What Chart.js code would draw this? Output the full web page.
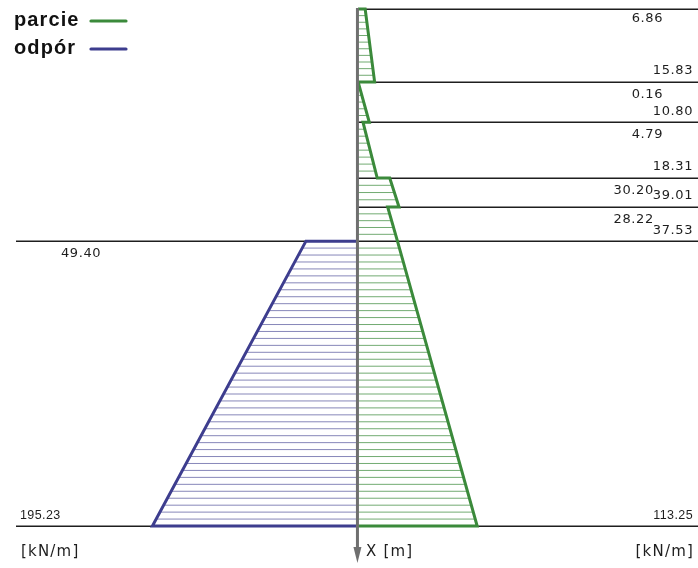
<!DOCTYPE html>
<html>
<head>
<meta charset="utf-8">
<script src="https://cdn.jsdelivr.net/npm/chart.js@4/dist/chart.umd.min.js"></script>
<style>
  html, body { margin: 0; padding: 0; background: #ffffff; }
  #wrap { width: 698px; height: 568px; }
</style>
</head>
<body>
<div id="wrap"><canvas id="c" width="698" height="568"></canvas></div>
<script>
// Layer boundaries measured down from the top of the wall [m]
const depths = [0, 1.41, 2.19, 3.27, 3.83, 4.49, 10.0];
// Active earth pressure at the top / bottom of each layer [kN/m]
const parcieTop    = [6.86, 0.16, 4.79, 30.20, 28.22, 37.53];
const parcieBottom = [15.83, 10.80, 18.31, 39.01, 37.53, 113.25];
// Passive resistance below the excavation level [kN/m]
const odporDepths = [4.49, 10.0];
const odporValues = [49.40, 195.23];
// Texts
const seriesNames = ['parcie', 'odpór'];
const unitLabel = '[kN/m]';
const axisLabel = 'X [m]';

const GREEN = '#3b8a3b';
const BLUE = '#3d3d8e';
const GREEN_HATCH = 'rgba(59,138,59,0.72)';
const BLUE_HATCH = 'rgba(61,61,142,0.62)';
const AXIS_GRAY = '#6f6f6f';
const INK = '#1e1e1e';

// Outline of the active pressure diagram (positive side)
const parciePts = [{ x: 0, y: depths[0] }];
parcieTop.forEach((v, i) => {
  parciePts.push({ x: v, y: depths[i] });
  parciePts.push({ x: parcieBottom[i], y: depths[i + 1] });
});
parciePts.push({ x: 0, y: depths[depths.length - 1] });

// Outline of the passive resistance diagram (drawn on the negative side)
const odporPts = [
  { x: 0, y: odporDepths[0] },
  { x: -odporValues[0], y: odporDepths[0] },
  { x: -odporValues[1], y: odporDepths[1] },
  { x: 0, y: odporDepths[1] }
];

function fmt(v) { return v.toFixed(2); }

const diagramPlugin = {
  id: 'wallDiagram',
  beforeDatasetsDraw(chart) {
    const { ctx, scales: { x, y }, chartArea } = chart;
    const x0 = x.getPixelForValue(0);
    ctx.save();
    // level lines
    ctx.strokeStyle = INK;
    ctx.lineWidth = 1.6;
    depths.forEach(d => {
      const py = Math.round(y.getPixelForValue(d)) + 0.2;
      ctx.beginPath();
      ctx.moveTo(x0, py);
      ctx.lineTo(chartArea.right, py);
      ctx.stroke();
    });
    odporDepths.forEach(d => {
      const py = Math.round(y.getPixelForValue(d)) + 0.2;
      ctx.beginPath();
      ctx.moveTo(16, py);
      ctx.lineTo(x0, py);
      ctx.stroke();
    });
    // hatching inside the active pressure diagram
    ctx.lineWidth = 1;
    ctx.strokeStyle = GREEN_HATCH;
    parcieTop.forEach((top, i) => {
      const yt = y.getPixelForValue(depths[i]);
      const yb = y.getPixelForValue(depths[i + 1]);
      const n = Math.max(1, Math.round((yb - yt) / 6.9));
      for (let k = 1; k < n; k++) {
        const t = k / n;
        const v = top + (parcieBottom[i] - top) * t;
        const py = yt + (yb - yt) * t;
        ctx.beginPath();
        ctx.moveTo(x0, py);
        ctx.lineTo(x.getPixelForValue(v), py);
        ctx.stroke();
      }
    });
    // hatching inside the passive resistance diagram
    ctx.strokeStyle = BLUE_HATCH;
    {
      const yt = y.getPixelForValue(odporDepths[0]);
      const yb = y.getPixelForValue(odporDepths[1]);
      const n = Math.max(1, Math.round((yb - yt) / 6.9));
      for (let k = 1; k < n; k++) {
        const t = k / n;
        const v = odporValues[0] + (odporValues[1] - odporValues[0]) * t;
        const py = yt + (yb - yt) * t;
        ctx.beginPath();
        ctx.moveTo(x0, py);
        ctx.lineTo(x.getPixelForValue(-v), py);
        ctx.stroke();
      }
    }
    ctx.restore();
  },
  afterDatasetsDraw(chart) {
    const { ctx, scales: { x, y }, chartArea } = chart;
    const x0 = x.getPixelForValue(0);
    const yTop = y.getPixelForValue(depths[0]);
    const yBottom = y.getPixelForValue(depths[depths.length - 1]);
    ctx.save();

    // depth axis with arrow
    ctx.strokeStyle = AXIS_GRAY;
    ctx.fillStyle = AXIS_GRAY;
    ctx.lineWidth = 3;
    ctx.beginPath();
    ctx.moveTo(x0 - 0.5, yTop - 1);
    ctx.lineTo(x0 - 0.5, yBottom + 23);
    ctx.stroke();
    ctx.beginPath();
    ctx.moveTo(x0 - 4.5, yBottom + 21);
    ctx.lineTo(x0 + 3.5, yBottom + 21);
    ctx.lineTo(x0 - 0.5, yBottom + 37);
    ctx.closePath();
    ctx.fill();

    // value labels
    ctx.fillStyle = INK;
    ctx.textBaseline = 'middle';
    const valueFont = '13px "DejaVu Sans"';
    const valueSpacing = '0.6px';
    const wallFont = '12.5px "Liberation Sans"';
    const wallSpacing = '0.4px';
    const rightEdge = chartArea.right - 5;
    const topRight = chartArea.right - 35;
    const last = parcieTop.length - 1;
    parcieTop.forEach((top, i) => {
      const yt = y.getPixelForValue(depths[i]);
      const yb = y.getPixelForValue(depths[i + 1]);
      const botY = yb - 11;
      const isLast = i === last;
      ctx.font = isLast ? wallFont : valueFont;
      ctx.letterSpacing = isLast ? wallSpacing : valueSpacing;
      ctx.textAlign = 'right';
      ctx.fillText(fmt(parcieBottom[i]), rightEdge, isLast ? yb - 10 : botY);
      const botW = ctx.measureText(fmt(parcieBottom[i])).width;
      if (i > 0 && parcieBottom[i - 1] === top) return;
      ctx.font = valueFont;
      ctx.letterSpacing = valueSpacing;
      const topY = i === 0 ? yt + 10 : yt + 12.5;
      let r = topRight;
      if (Math.abs(topY - botY) < 12) r = Math.min(r, rightEdge - botW + 1);
      ctx.fillText(fmt(top), r, topY);
    });
    ctx.textAlign = 'left';
    ctx.font = valueFont;
    ctx.letterSpacing = valueSpacing;
    ctx.fillText(fmt(odporValues[0]), 61, y.getPixelForValue(odporDepths[0]) + 12);
    ctx.font = wallFont;
    ctx.letterSpacing = wallSpacing;
    ctx.fillText(fmt(odporValues[1]), 20, y.getPixelForValue(odporDepths[1]) - 10);

    // units and axis name
    ctx.font = '15px "DejaVu Sans"';
    ctx.letterSpacing = '1.2px';
    const unitY = yBottom + 26;
    ctx.textAlign = 'left';
    ctx.fillText(unitLabel, 21, unitY);
    ctx.fillText(axisLabel, x0 + 8, unitY);
    ctx.textAlign = 'right';
    ctx.fillText(unitLabel, chartArea.right - 4, unitY);

    // legend: name followed by a line sample
    const colors = [GREEN, BLUE];
    ctx.textAlign = 'left';
    ctx.textBaseline = 'alphabetic';
    ctx.font = 'bold 20px "Liberation Sans"';
    ctx.letterSpacing = '1.1px';
    seriesNames.forEach((name, k) => {
      const base = 26 + k * 28;
      ctx.fillStyle = '#111';
      ctx.fillText(name, 14, base);
      ctx.strokeStyle = colors[k];
      ctx.lineWidth = 3.2;
      ctx.lineCap = 'round';
      ctx.beginPath();
      ctx.moveTo(91, base - 5);
      ctx.lineTo(126, base - 5);
      ctx.stroke();
    });
    ctx.restore();
  }
};

new Chart(document.getElementById('c'), {
  type: 'scatter',
  data: {
    datasets: [
      {
        label: seriesNames[0],
        data: parciePts,
        showLine: true,
        borderColor: GREEN,
        borderWidth: 3,
        pointRadius: 0,
        tension: 0,
        fill: false
      },
      {
        label: seriesNames[1],
        data: odporPts,
        showLine: true,
        borderColor: BLUE,
        borderWidth: 3,
        pointRadius: 0,
        tension: 0,
        fill: false
      }
    ]
  },
  options: {
    responsive: false,
    devicePixelRatio: 1,
    animation: false,
    layout: { padding: 0 },
    plugins: { legend: { display: false }, tooltip: { enabled: false } },
    scales: {
      x: { type: 'linear', display: false, min: -340, max: 323 },
      y: { type: 'linear', display: false, reverse: true, min: -0.174, max: 10.812 }
    }
  },
  plugins: [diagramPlugin]
});
</script>
</body>
</html>
